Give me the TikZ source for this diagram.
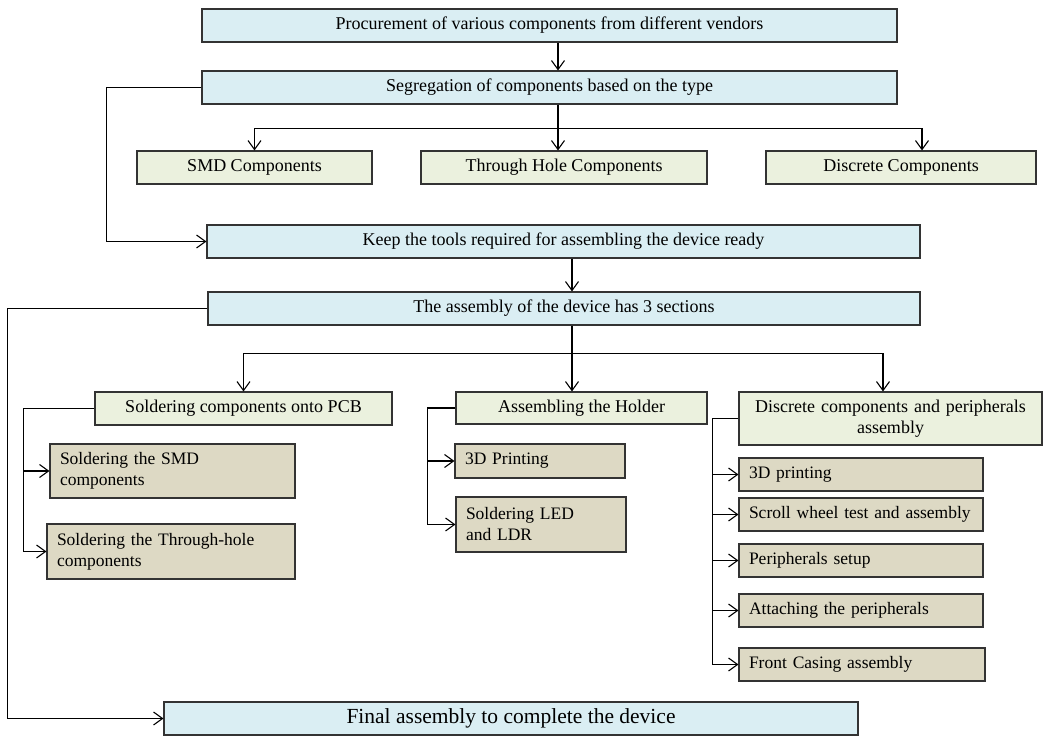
\documentclass[tikz,border=0pt]{standalone}
\usepackage{fontspec}
\setmainfont{Liberation Serif}
\usetikzlibrary{arrows.meta}
\definecolor{cdaeef3}{RGB}{218,238,243}
\definecolor{cebf1de}{RGB}{235,241,222}
\definecolor{cddd9c4}{RGB}{221,217,196}
\definecolor{c333333}{RGB}{51,51,51}

\begin{document}
\begin{tikzpicture}[y=1pt,x=1pt,yscale=-1,
  box/.style={draw=c333333,line width=1.1pt,inner sep=0pt,minimum height=33pt,
    font=\fontsize{18}{21}\selectfont},
  bluebox/.style={box,fill=cdaeef3},
  greenbox/.style={box,fill=cebf1de},
  tanbox/.style={box,fill=cddd9c4,align=left,inner xsep=10pt,
    font=\fontsize{17.5}{21}\selectfont},
  arr/.style={draw=black,line width=1.1pt,-{Straight Barb[length=9pt,width=13pt]}}]

\useasboundingbox (0,0) rectangle (1061,736);

  \node[bluebox,minimum width=695pt] (proc) at (549.5,25.5)
    {Procurement of various components from different vendors};
  \node[bluebox,minimum width=695pt] (seg) at (549.5,87.5)
    {Segregation of components based on the type};
  \node[greenbox,minimum width=235pt] (smdc) at (254.5,167.5) {SMD Components};
  \node[greenbox,minimum width=286pt] (thc) at (564,167.5) {Through Hole Components};
  \node[greenbox,minimum width=270pt] (discc) at (901,167.5) {Discrete Components};
  \node[bluebox,minimum width=713pt] (keep) at (563.5,241.5)
    {Keep the tools required for assembling the device ready};
  \node[bluebox,minimum width=712pt] (asm) at (564,308.5)
    {The assembly of the device has 3 sections};

  \node[greenbox,minimum width=297pt] (pcb) at (243.5,408.5) {Soldering components onto PCB};
  \node[greenbox,minimum width=251pt,minimum height=32pt] (holder) at (581.5,408)
    {Assembling the Holder};
  \node[greenbox,align=center,text width=303pt,minimum height=53pt] (discp) at (890.5,418.5)
    {Discrete components and peripherals\\assembly};

  \node[tanbox,text width=225pt,minimum height=54pt] (smds) at (172.5,471)
    {Soldering the SMD\\components};
  \node[tanbox,text width=228pt,minimum height=55pt] (ths) at (171,551.5)
    {Soldering the Through-hole\\components};

  \node[tanbox,text width=150pt,minimum height=34pt] (prt) at (540,461) {3D Printing};
  \node[tanbox,text width=150pt,minimum height=55pt] (led) at (541,524.5)
    {Soldering LED\\and LDR};

  \node[tanbox,text width=224pt] (dprt) at (861,474.5) {3D printing};
  \node[tanbox,text width=224pt] (scroll) at (861,514.5) {Scroll wheel test and assembly};
  \node[tanbox,text width=224pt] (setup) at (861,560.5) {Peripherals setup};
  \node[tanbox,text width=224pt] (attach) at (861,610.5) {Attaching the peripherals};
  \node[tanbox,text width=226pt] (front) at (862,664.5) {Front Casing assembly};

  \node[bluebox,minimum width=694pt,font=\fontsize{21.5}{25}\selectfont] (final) at (511,718.5)
    {Final assembly to complete the device};

  \coordinate (ca) at (558,0);
  \coordinate (cb) at (572,0);

  \draw[arr] (proc.south -| ca) -- (seg.north -| ca);
  \draw[arr] (seg.south -| ca) -- (thc.north -| ca);
  \draw[arr] (seg.south -| ca) ++(0,24) -| (smdc.north);
  \draw[arr] (seg.south -| ca) ++(0,24) -| ([xshift=21pt]discc.north);
  \draw[arr] (seg.west) -- ++(-95,0) |- (keep.west);

  \draw[arr] (keep.south -| cb) -- (asm.north -| cb);
  \draw[arr] (asm.south -| cb) -- (holder.north -| cb);
  \draw[arr] (asm.south -| cb) ++(0,28) -| (pcb.north);
  \draw[arr] (asm.south -| cb) ++(0,28) -| ([xshift=-7.5pt]discp.north);
  \draw[arr] (asm.west) -- ++(-200,0) |- (final.west);

  \draw[arr] (pcb.west) -- ++(-71,0) |- (smds.west);
  \draw[arr] (pcb.west) ++(-71,0) |- (ths.west);

  \draw[arr] (holder.west) -- ++(-28,0) |- (prt.west);
  \draw[arr] (holder.west) ++(-28,0) |- (led.west);

  \draw[arr] (discp.west) -- ++(-26,0) |- (front.west);
  \foreach \t in {dprt,scroll,setup,attach}
    \draw[arr] (discp.west) ++(-26,0) |- (\t.west);
\end{tikzpicture}
\end{document}
